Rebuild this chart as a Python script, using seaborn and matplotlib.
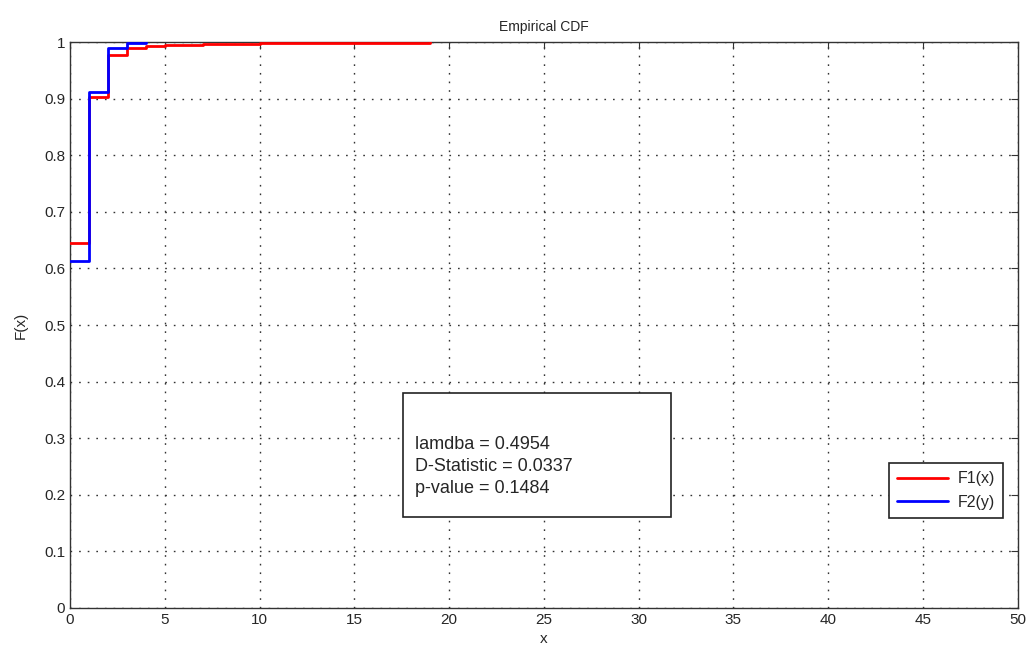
import matplotlib
matplotlib.use('Agg')
import matplotlib.pyplot as plt
import seaborn as sns
import pandas as pd
from matplotlib.patches import Rectangle

# step points of the two empirical CDFs
x1 = [0, 1, 2, 3, 4, 5, 7, 10, 11, 19]
f1 = [0.645, 0.903, 0.977, 0.989, 0.994, 0.996, 0.997, 0.998, 0.999, 1.0]
x2 = [0, 1, 2, 3, 4]
f2 = [0.613, 0.912, 0.990, 0.998, 1.0]
stats_lines = ['lamdba = 0.4954', 'D-Statistic = 0.0337', 'p-value = 0.1484']

sns.set_style('white')
plt.rcParams['font.family'] = ['Liberation Sans', 'DejaVu Sans']

fig = plt.figure(figsize=(10.3, 6.6), dpi=100)
ax = fig.add_axes([0.068, 0.079, 0.920, 0.857])

d1 = pd.DataFrame({'x': x1, 'F': f1})
d2 = pd.DataFrame({'x': x2, 'F': f2})
sns.lineplot(data=d1, x='x', y='F', ax=ax, color='#ff0000', lw=2,
             drawstyle='steps-post', label='F1(x)', zorder=3)
sns.lineplot(data=d2, x='x', y='F', ax=ax, color='#0000ff', lw=2,
             drawstyle='steps-post', label='F2(y)', zorder=3)

ax.set_xlim(0, 50)
ax.set_ylim(0, 1)
ax.set_xticks(range(0, 51, 5))
ax.set_yticks([i / 10 for i in range(11)])
ax.set_yticklabels(['0', '0.1', '0.2', '0.3', '0.4', '0.5', '0.6', '0.7', '0.8', '0.9', '1'])
ax.grid(True, linestyle=(0, (1.2, 5)), color='#333333', lw=1)
ax.tick_params(direction='in', length=5, top=True, right=True, labelsize=11, color='#333333')
for s in ax.spines.values():
    s.set_color('#333333')
    s.set_linewidth(1)

ax.set_title('Empirical CDF', fontsize=10, pad=8)
ax.set_xlabel('x', fontsize=11)
ax.set_ylabel('F(x)', fontsize=11, labelpad=12)

# statistics box
ax.add_patch(Rectangle((0.351, 0.161), 0.283, 0.219, transform=ax.transAxes,
                       fill=True, facecolor='white', edgecolor='#222222', lw=1.2, zorder=4))
ax.text(0.364, 0.250, '\n'.join(stats_lines), transform=ax.transAxes,
        fontsize=13, va='center', ha='left', linespacing=1.4, zorder=5)

leg = ax.legend(loc='lower right', bbox_to_anchor=(0.985, 0.159), borderaxespad=0,
                fancybox=False, framealpha=1, edgecolor='#222222', fontsize=11.5,
                handlelength=3.2, labelspacing=0.55, borderpad=0.5, handletextpad=0.6)
leg.get_frame().set_linewidth(1.2)

fig.savefig('out.png', dpi=100)
